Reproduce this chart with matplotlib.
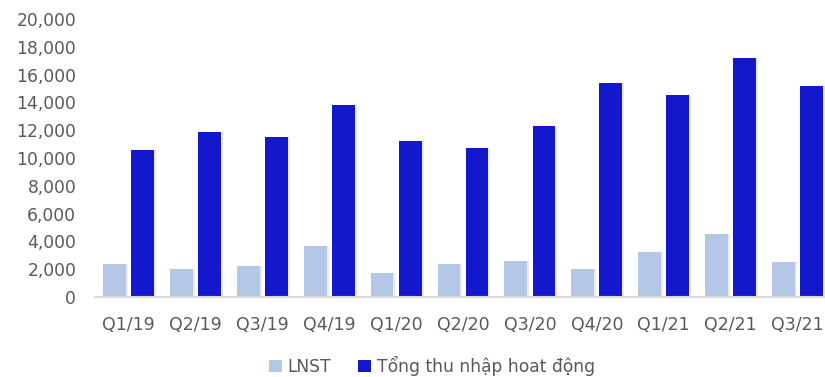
import numpy as np
import matplotlib.pyplot as plt

quarters = ["Q1/19", "Q2/19", "Q3/19", "Q4/19", "Q1/20", "Q2/20",
            "Q3/20", "Q4/20", "Q1/21", "Q2/21", "Q3/21"]
lnst = [2400, 2000, 2200, 3700, 1700, 2400, 2600, 2000, 3250, 4550, 2500]
tong_thu_nhap = [10600, 11900, 11500, 13800, 11200, 10700,
                 12300, 15400, 14500, 17200, 15200]

c_light = "#B4C7E7"
c_dark = "#1418CC"
txt = "#595959"

plt.rcParams['font.family'] = ['DejaVu Sans']

fig = plt.figure(figsize=(8.25, 3.77), dpi=100)
ax = fig.add_axes([95 / 825, 1 - 297 / 377, 736 / 825, (297 - 19) / 377])

x = np.arange(len(quarters))
w = 0.34
off = 0.21
# faint shadow like the original
ax.bar(x - off + 0.03, lnst, w, color="#000000", alpha=0.08, zorder=1)
ax.bar(x + off + 0.03, tong_thu_nhap, w, color="#000000", alpha=0.08, zorder=1)
ax.bar(x - off, lnst, w, color=c_light, label="LNST", zorder=2)
ax.bar(x + off, tong_thu_nhap, w, color=c_dark, label="Tổng thu nhập hoat động", zorder=2)

ax.set_xlim(-0.5, len(quarters) - 0.5)
ax.set_ylim(0, 20000)
ax.set_yticks(range(0, 20001, 2000))
ax.set_yticklabels([f"{v:,}" for v in range(0, 20001, 2000)])
ax.set_xticks(x)
ax.set_xticklabels(quarters)

for s in ["top", "right", "left"]:
    ax.spines[s].set_visible(False)
ax.spines["bottom"].set_color("#D9D9D9")
ax.spines["bottom"].set_linewidth(1.5)
ax.tick_params(axis="both", length=0, labelsize=12.5, labelcolor=txt)
ax.tick_params(axis="y", pad=13.5, labelsize=12.3)
ax.tick_params(axis="x", pad=14)

leg = fig.legend(loc="center", bbox_to_anchor=(432 / 825, 1 - 366 / 377), ncol=2,
                 frameon=False, fontsize=12.3, handlelength=0.75, handleheight=0.75,
                 handletextpad=0.35, columnspacing=1.6, labelcolor=txt)

fig.savefig("out.png", dpi=100)
